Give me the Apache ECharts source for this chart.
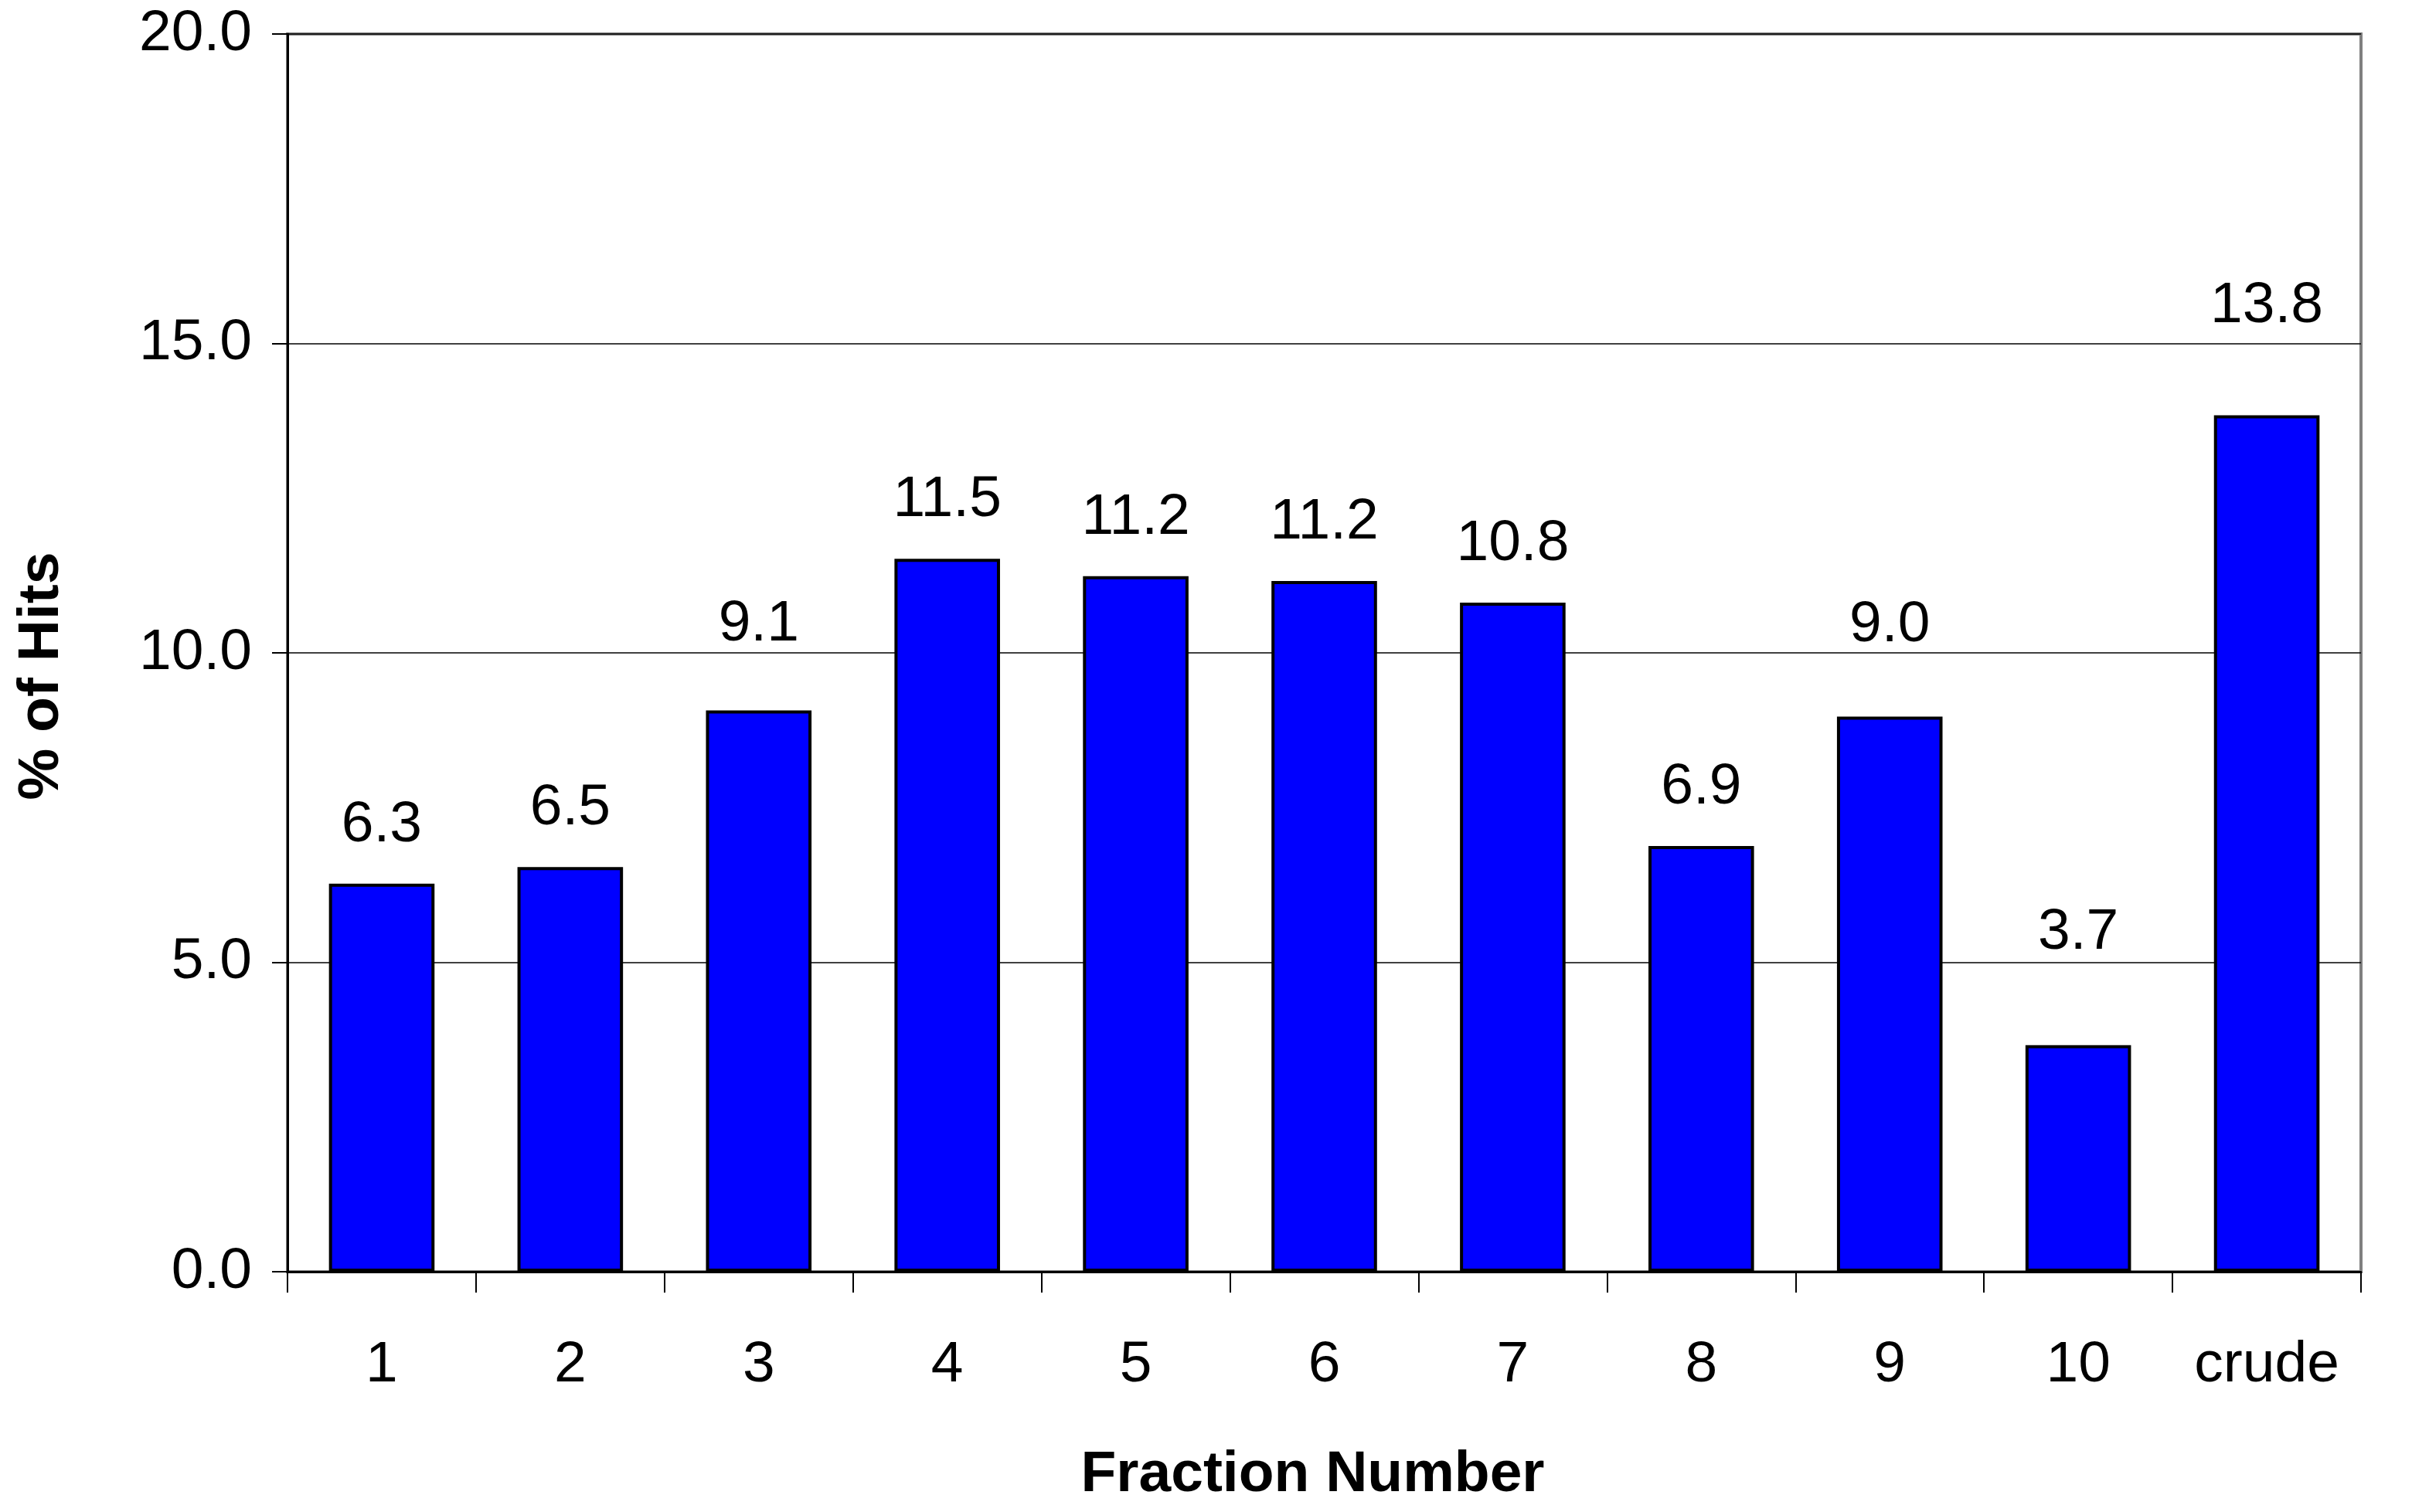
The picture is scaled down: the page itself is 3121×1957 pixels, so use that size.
<!DOCTYPE html>
<html>
<head>
<meta charset="utf-8">
<script src="https://cdn.jsdelivr.net/npm/echarts@6/dist/echarts.min.js"></script>
<style>
html,body{margin:0;padding:0;background:#fff;}
#chart{width:3121px;height:1957px;}
</style>
</head>
<body>
<div id="chart"></div>
<script>
const categories = ['1','2','3','4','5','6','7','8','9','10','crude'];
const hitsPercent = [6.27, 6.54, 9.07, 11.52, 11.24, 11.16, 10.81, 6.88, 8.97, 3.66, 13.84];
const yTicks = [0, 5, 10, 15, 20];
const xTitle = 'Fraction Number';
const yTitle = '% of Hits';

// extra upward lift (px) of individual value labels, as placed in the original
const labelLift = [0, 0, 36, 0, 0, 0, 0, 0, 43, 70, 66];

const FONT = '"Liberation Sans", Arial, sans-serif';
const FS = 75;
const chart = echarts.init(document.getElementById('chart'), null, {renderer: 'canvas'});
chart.setOption({
  backgroundColor: '#ffffff',
  animation: false,
  grid: {
    left: 372, right: 66, top: 44, bottom: 311,
    show: true, borderColor: '#808080', borderWidth: 4, backgroundColor: 'transparent'
  },
  xAxis: {
    type: 'category',
    data: categories,
    name: xTitle,
    nameLocation: 'middle',
    nameGap: 226,
    nameTextStyle: {fontFamily: FONT, fontSize: FS, fontWeight: 'bold', color: '#000', padding: [0, 30, 0, 0]},
    axisLine: {show: true, lineStyle: {color: '#000', width: 3}},
    axisTick: {show: true, length: 27, lineStyle: {color: '#000', width: 2}},
    axisLabel: {fontFamily: FONT, fontSize: FS, color: '#000', margin: 84}
  },
  yAxis: {
    type: 'value',
    min: yTicks[0],
    max: yTicks[yTicks.length - 1],
    interval: yTicks[1] - yTicks[0],
    name: yTitle,
    nameLocation: 'middle',
    nameGap: 280,
    nameTextStyle: {fontFamily: FONT, fontSize: FS, fontWeight: 'bold', color: '#000', padding: [0, 60, 0, 0]},
    axisLine: {show: true, lineStyle: {color: '#000', width: 3}},
    axisTick: {show: true, length: 20, lineStyle: {color: '#000', width: 2}},
    axisLabel: {fontFamily: FONT, fontSize: FS, color: '#000', margin: 46,
      formatter: v => v.toFixed(1)},
    splitLine: {show: true, lineStyle: {color: '#000', width: 1.5}}
  },
  series: [{
    type: 'bar',
    data: hitsPercent.map((v, i) => ({value: v, label: {offset: [0, -labelLift[i]]}})),
    barWidth: '56%',
    itemStyle: {color: '#0000FF', borderColor: '#000', borderWidth: 4},
    label: {
      show: true, position: 'top', distance: 38,
      fontFamily: FONT, fontSize: FS, color: '#000',
      formatter: p => p.value.toFixed(1)
    }
  }]
});
</script>
</body>
</html>
